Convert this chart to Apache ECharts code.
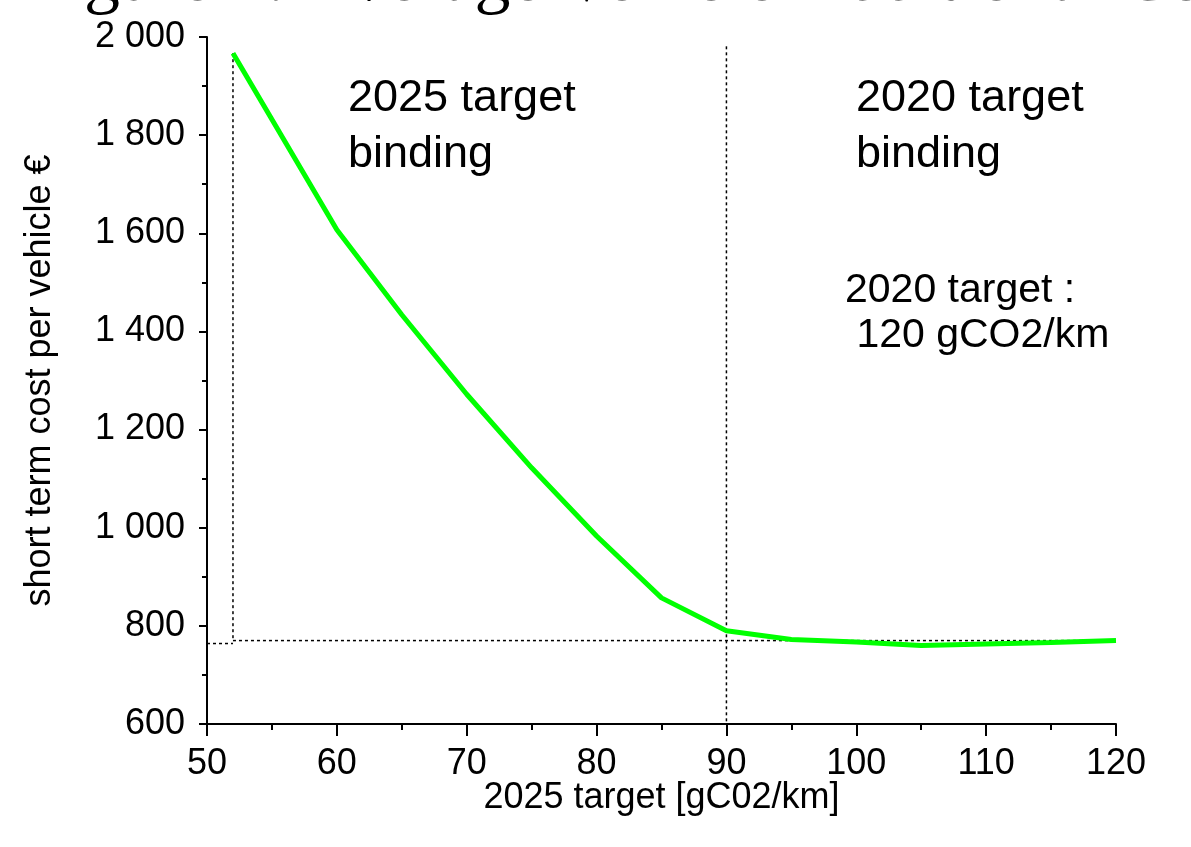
<!DOCTYPE html>
<html>
<head>
<meta charset="utf-8">
<script src="https://cdn.jsdelivr.net/npm/echarts@6/dist/echarts.min.js"></script>
<style>
html,body{margin:0;padding:0;background:#fff;}
#chart{width:1191px;height:847px;}
</style>
</head>
<body>
<div id="chart"></div>
<script>
// ---- data ----
const targets = [52, 60, 65, 70, 75, 80, 85, 90, 95, 100, 105, 110, 115, 120];
const costs   = [1967, 1607, 1434, 1272, 1122, 983, 857, 790, 772, 767, 760, 763, 766, 770];

const guideLeftVertical  = [[52, 1967], [52, 770]];
const guideHorizontal    = [[52, 770], [120, 770]];
const guideShort         = [[50, 764], [52, 764]];
const guide90Vertical    = [[90, 1981], [90, 600]];

const titleText = 'Figure 2: Average Vehicle Additional Cost';
const xAxisName = '2025 target [gC02/km]';
const yAxisName = 'short term cost per vehicle €';
const noteLeft  = ['2025 target', 'binding'];
const noteRight = ['2020 target', 'binding'];
const noteTarget = ['2020 target :', ' 120 gCO2/km'];

const FONT = '"Liberation Sans", Arial, sans-serif';

function fmtThousands(v) {
  const s = String(Math.round(v));
  return s.replace(/\B(?=(\d{3})+(?!\d))/g, ' ');
}

const chart = echarts.init(document.getElementById('chart'), null, {renderer: 'canvas'});

const dashStyle = {color: '#000', width: 1.5, type: [3, 3]};
function guide(data) {
  return {
    type: 'line', data: data, symbol: 'none', silent: true,
    lineStyle: dashStyle, z: 1, animation: false
  };
}

const option = {
  backgroundColor: '#fff',
  animation: false,
  textStyle: {fontFamily: FONT, color: '#000'},
  grid: {left: 207, right: 75, top: 37, bottom: 123, containLabel: false},
  xAxis: {
    type: 'value', min: 50, max: 120, interval: 10,
    name: xAxisName, nameLocation: 'middle', nameGap: 56, nameMoveOverlap: false,
    nameTextStyle: {fontSize: 36, color: '#000', fontFamily: FONT},
    axisLine: {show: true, onZero: false, lineStyle: {color: '#000', width: 2}},
    axisTick: {show: true, length: 12, lineStyle: {color: '#000', width: 2}},
    minorTick: {show: true, splitNumber: 2, length: 6, lineStyle: {color: '#000', width: 2}},
    splitLine: {show: false},
    axisLabel: {fontSize: 36, color: '#000', margin: 22, fontFamily: FONT}
  },
  yAxis: {
    type: 'value', min: 600, max: 2000, interval: 200,
    name: yAxisName, nameLocation: 'middle', nameGap: 149, nameRotate: 90,
    nameTextStyle: {fontSize: 36, color: '#000', fontFamily: FONT},
    axisLine: {show: true, lineStyle: {color: '#000', width: 2}},
    axisTick: {show: true, length: 8, lineStyle: {color: '#000', width: 2}},
    minorTick: {show: true, splitNumber: 2, length: 5, lineStyle: {color: '#000', width: 2}},
    splitLine: {show: false},
    axisLabel: {fontSize: 36, color: '#000', margin: 22, fontFamily: FONT,
      formatter: fmtThousands}
  },
  series: [
    guide(guideLeftVertical),
    guide(guideHorizontal),
    guide(guideShort),
    guide(guide90Vertical),
    {
      type: 'line', name: 'cost',
      data: targets.map((t, i) => [t, costs[i]]),
      symbol: 'none', z: 3,
      lineStyle: {color: '#00ff00', width: 5}
    }
  ],
  graphic: [
    {type: 'text', left: 24, top: -55, silent: true,
      style: {text: titleText, fontSize: 72, fontFamily: '"Liberation Serif", "Times New Roman", serif', fill: '#000'}},
    {type: 'text', left: 348, top: 71, silent: true,
      style: {text: noteLeft.join('\n'), fontSize: 45, lineHeight: 56, fontFamily: FONT, fill: '#000'}},
    {type: 'text', left: 856, top: 71, silent: true,
      style: {text: noteRight.join('\n'), fontSize: 45, lineHeight: 56, fontFamily: FONT, fill: '#000'}},
    {type: 'text', left: 845, top: 268, silent: true,
      style: {text: noteTarget.join('\n'), fontSize: 41, lineHeight: 45, fontFamily: FONT, fill: '#000'}}
  ]
};
chart.setOption(option);
</script>
</body>
</html>
